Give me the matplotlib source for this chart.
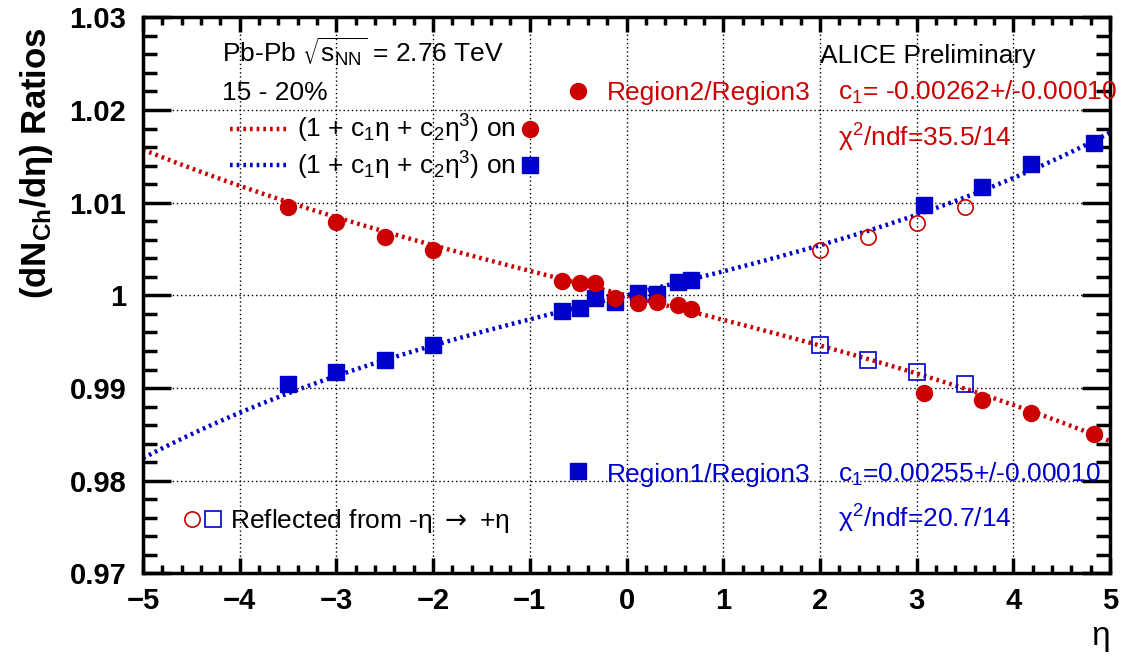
import numpy as np
import matplotlib
matplotlib.use("Agg")
import matplotlib.pyplot as plt
from matplotlib.ticker import MultipleLocator

plt.rcParams['font.family'] = ['Liberation Sans', 'DejaVu Sans']

# Region2/Region3 (red) and Region1/Region3 (blue), measured points
eta = [-3.5, -3.0, -2.5, -2.0, -0.67, -0.48, -0.33, -0.12,
       0.12, 0.32, 0.53, 0.67, 3.08, 3.68, 4.18, 4.83]
r23 = [1.0095, 1.0079, 1.0063, 1.0049, 1.0015, 1.0013, 1.0013, 0.9997,
       0.9992, 0.9993, 0.9990, 0.9985, 0.9895, 0.9887, 0.9873, 0.9850]
r13 = [0.9904, 0.9917, 0.9930, 0.9946, 0.9983, 0.9986, 0.9997, 0.9993,
       1.0003, 1.0002, 1.0014, 1.0017, 1.0097, 1.0117, 1.0142, 1.0164]

# points reflected from -eta to +eta
eta_refl = [2.0, 2.5, 3.0, 3.5]
r23_refl = [1.0049, 1.0063, 1.0078, 1.0095]
r13_refl = [0.9946, 0.9930, 0.9917, 0.9904]

# fit parameters  1 + c1*eta + c2*eta^3
c1_red, c2_red = -0.00262, -2.1e-5
c1_blue, c2_blue = 0.00255, 3.85e-5

RED = '#cc0000'
BLUE = '#0000cc'
DOT = (0, (0.6, 0.9))

fig = plt.figure(figsize=(11.25, 6.59), dpi=100)
ax = fig.add_axes([0.1271, 0.1299, 0.8596, 0.8438])

xf = np.linspace(-5, 5, 400)
ax.plot(xf, 1 + c1_red * xf + c2_red * xf**3, color=RED, lw=3.2, ls=DOT, zorder=2)
ax.plot(xf, 1 + c1_blue * xf + c2_blue * xf**3, color=BLUE, lw=3.2, ls=DOT, zorder=2)

ax.plot(eta, r13, 's', color=BLUE, ms=11, mec=BLUE, zorder=3)
ax.plot(eta, r23, 'o', color=RED, ms=11.5, mec=RED, zorder=4)
ax.plot(eta_refl, r23_refl, 'o', mfc='none', mec=RED, mew=1.2, ms=11, zorder=4)
ax.plot(eta_refl, r13_refl, 's', mfc='none', mec=BLUE, mew=1.2, ms=11, zorder=4)

ax.set_xlim(-5, 5)
ax.set_ylim(0.97, 1.03)
ax.xaxis.set_major_locator(MultipleLocator(1))
ax.xaxis.set_minor_locator(MultipleLocator(0.2))
ax.yaxis.set_major_locator(MultipleLocator(0.01))
ax.yaxis.set_minor_locator(MultipleLocator(0.002))
ax.set_xticks(range(-5, 6))
ax.set_xticklabels(['\u22125', '\u22124', '\u22123', '\u22122', '\u22121', '0', '1', '2', '3', '4', '5'])
ax.set_yticks([0.97, 0.98, 0.99, 1.0, 1.01, 1.02, 1.03])
ax.set_yticklabels(['0.97', '0.98', '0.99', '1', '1.01', '1.02', '1.03'])
for lab in ax.get_xticklabels() + ax.get_yticklabels():
    lab.set_fontweight('bold')
    lab.set_fontsize(21)

ax.tick_params(axis='x', which='major', direction='in', length=11, width=2.5, top=True, pad=10)
ax.tick_params(axis='x', which='minor', direction='in', length=5.5, width=2.5, top=True)
ax.tick_params(axis='y', which='major', direction='in', length=20, width=2.5, right=True, pad=12)
ax.tick_params(axis='y', which='minor', direction='in', length=10, width=2.5, right=True)
for s in ax.spines.values():
    s.set_linewidth(2.5)

ax.grid(True, which='major', color='black', ls=(0, (1, 2)), lw=1.0)
ax.set_axisbelow(True)

# y title and x title
fig.text(46 / 1125, 1 - 27 / 659, r'(dN$\mathregular{_{Ch}}$/d$\mathregular{\eta}$) Ratios',
         rotation=90, rotation_mode='anchor', ha='right', va='baseline',
         fontsize=25, fontweight='bold')
fig.text(1110 / 1125, 1 - 645 / 659, '\u03b7', ha='right', va='baseline', fontsize=24)

T = ax.transAxes
fs = 19
ax.text(0.0817, 0.918, r'Pb-Pb $\mathregular{\sqrt{s_{NN}}}$ = 2.76 TeV', transform=T, fontsize=fs, va='baseline')
ax.text(0.0817, 0.851, '15 - 20%', transform=T, fontsize=fs, va='baseline')
ax.text(0.700, 0.918, 'ALICE Preliminary', transform=T, fontsize=fs, va='baseline')

# legend for fits
ax.plot([0.090, 0.149], [0.799, 0.799], transform=T, color=RED, lw=3.2, ls=DOT, clip_on=False)
ax.plot([0.090, 0.149], [0.734, 0.734], transform=T, color=BLUE, lw=3.2, ls=DOT, clip_on=False)
fit_txt = r'(1 + c$\mathregular{_1}$η + c$\mathregular{_2}$η$\mathregular{^3}$) on'
ax.text(0.159, 0.783, fit_txt, transform=T, fontsize=fs, va='baseline')
ax.text(0.159, 0.718, fit_txt, transform=T, fontsize=fs, va='baseline')
ax.plot([0.400], [0.799], 'o', transform=T, color=RED, ms=11.5)
ax.plot([0.400], [0.734], 's', transform=T, color=BLUE, ms=11)

# region 2 / region 3 labels
ax.plot([0.450], [0.868], 'o', transform=T, color=RED, ms=11.5)
ax.text(0.480, 0.851, 'Region2/Region3', transform=T, fontsize=fs, va='baseline', color=RED)
ax.text(0.719, 0.851, r'c$\mathregular{_1}$= -0.00262+/-0.00010', transform=T, fontsize=fs, va='baseline', color=RED)
ax.text(0.719, 0.767, r'χ$\mathregular{^2}$/ndf=35.5/14', transform=T, fontsize=fs, va='baseline', color=RED)

# region 1 / region 3 labels
ax.plot([0.450], [0.184], 's', transform=T, color=BLUE, ms=11)
ax.text(0.480, 0.165, 'Region1/Region3', transform=T, fontsize=fs, va='baseline', color=BLUE)
ax.text(0.719, 0.165, r'c$\mathregular{_1}$=0.00255+/-0.00010', transform=T, fontsize=fs, va='baseline', color=BLUE)
ax.text(0.719, 0.082, r'χ$\mathregular{^2}$/ndf=20.7/14', transform=T, fontsize=fs, va='baseline', color=BLUE)

# reflected
ax.plot([0.0507], [0.0978], 'o', transform=T, mfc='none', mec=RED, mew=1.2, ms=11)
ax.plot([0.0724], [0.0978], 's', transform=T, mfc='none', mec=BLUE, mew=1.2, ms=11)
ax.text(0.090, 0.0816, r'Reflected from -η $\rightarrow$ +η', transform=T, fontsize=fs, va='baseline')

fig.savefig('out.png', dpi=100)
